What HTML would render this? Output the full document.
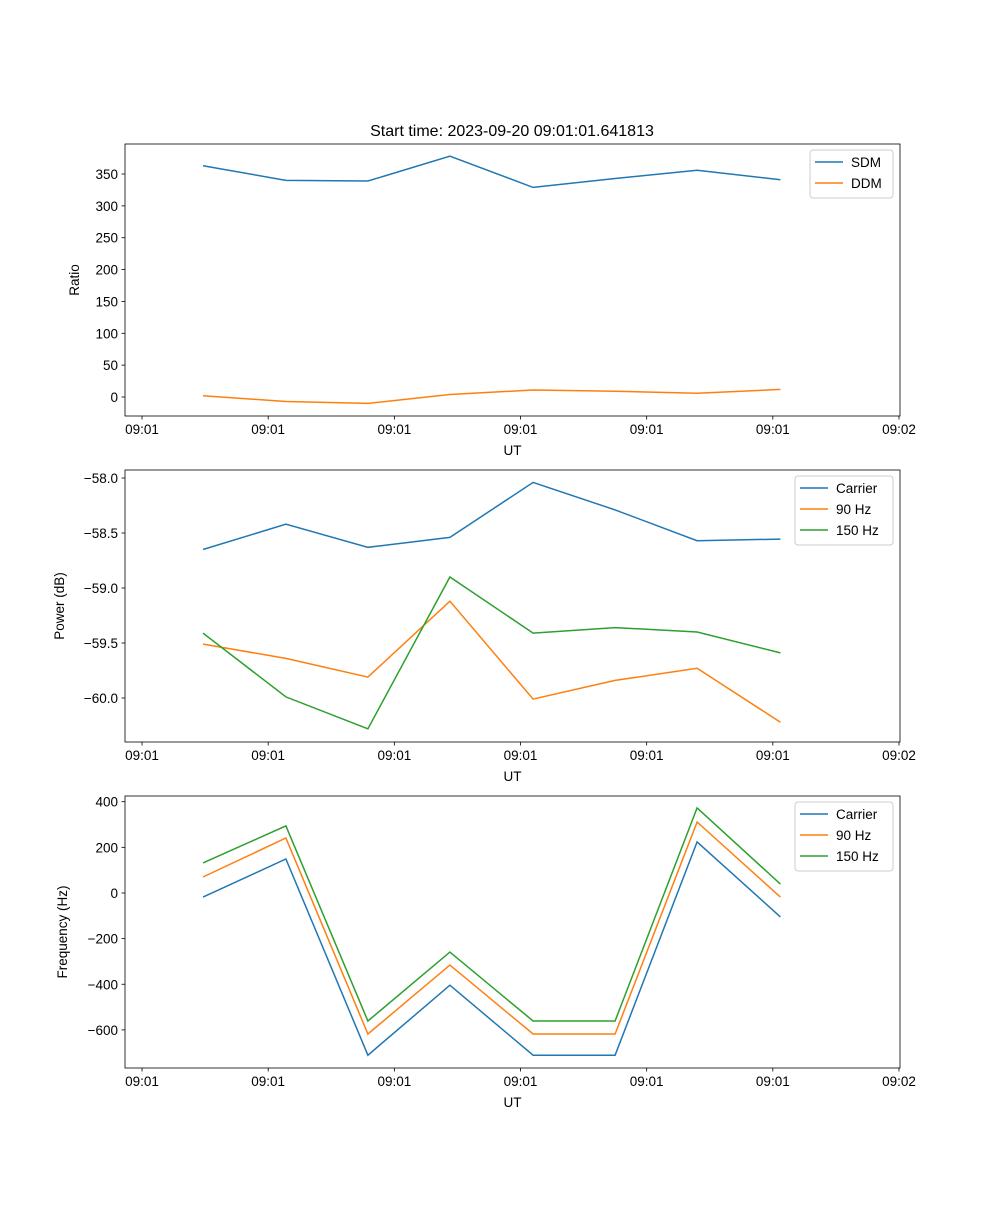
<!DOCTYPE html>
<html><head><meta charset="utf-8">
<style>
body{margin:0;background:#fff;}
svg text{font-family:"Liberation Sans","DejaVu Sans",sans-serif;font-size:13.5px;fill:#000;}
</style></head>
<body>
<svg id="fig" width="1000" height="1200" xmlns="http://www.w3.org/2000/svg"></svg>
<script>
const times = [4.83, 11.4, 17.9, 24.4, 31.0, 37.5, 44.0, 50.6];
const xTickVals = [0, 10, 20, 30, 40, 50, 60];
const xTickLabels = ["09:01","09:01","09:01","09:01","09:01","09:01","09:02"];
const sdm = [363, 340, 339, 378, 329, 343, 356, 341];
const ddm = [2, -7, -10, 4, 11, 9, 6, 12];
const pCarrier = [-58.65, -58.42, -58.63, -58.54, -58.04, -58.29, -58.57, -58.555];
const p90 = [-59.51, -59.64, -59.81, -59.12, -60.01, -59.84, -59.73, -60.22];
const p150 = [-59.41, -59.99, -60.28, -58.90, -59.41, -59.36, -59.40, -59.59];
const fCarrier = [-18, 149, -711, -404, -711, -711, 224, -105];
const f90 = [70, 241, -618, -316, -618, -618, 311, -18];
const f150 = [132, 294, -561, -259, -561, -561, 373, 39];
const ticks1 = [0, 50, 100, 150, 200, 250, 300, 350];
const ticks1Labels = ["0","50","100","150","200","250","300","350"];
const ticks2 = [-60.0, -59.5, -59.0, -58.5, -58.0];
const ticks2Labels = ["\u221260.0","\u221259.5","\u221259.0","\u221258.5","\u221258.0"];
const ticks3 = [-600, -400, -200, 0, 200, 400];
const ticks3Labels = ["\u2212600","\u2212400","\u2212200","0","200","400"];

const NS="http://www.w3.org/2000/svg";
const svg=document.getElementById('fig');
function mk(tag,attrs,parent){const e=document.createElementNS(NS,tag);for(const k in attrs)e.setAttribute(k,attrs[k]);(parent||svg).appendChild(e);return e;}
const L=125,R=900;
const xmin=-1.35,xmax=60.08;
const X=v=>L+(v-xmin)/(xmax-xmin)*(R-L);

function panel(name,top,bot,ymin,ymax,ticks,tlabels,ylabel,ylabX,series,legend){
  const g=mk('g',{});
  
  
  const Y=v=>bot-(v-ymin)/(ymax-ymin)*(bot-top);
  series.forEach(s=>{
    const p=mk('polyline',{points:s.vals.map((v,i)=>X(times[i]).toFixed(1)+','+Y(v).toFixed(1)).join(' '),fill:'none',stroke:s.color,'stroke-width':1.5},g);
    
    
  });
  mk('rect',{x:L,y:top,width:R-L,height:bot-top,fill:'none',stroke:'#000','stroke-width':0.8},g);
  xTickVals.forEach((v,i)=>{
    const x=X(v);
    mk('line',{x1:x,x2:x,y1:bot,y2:bot+3.5,stroke:'#000','stroke-width':0.8},g);
    const t=mk('text',{x:x,y:bot+18,'text-anchor':'middle'},g);t.textContent=xTickLabels[i];
    
    
  });
  const xt=mk('text',{x:(L+R)/2,y:bot+39,'text-anchor':'middle'},g);xt.textContent='UT';
  
  
  ticks.forEach((v,i)=>{
    const y=Y(v);
    mk('line',{x1:L-3.5,x2:L,y1:y,y2:y,stroke:'#000','stroke-width':0.8},g);
    const t=mk('text',{x:L-7,y:y+5,'text-anchor':'end'},g);t.textContent=tlabels[i];
    
    
  });
  const cy=(top+bot)/2;
  const yt=mk('text',{x:ylabX,y:cy,'text-anchor':'middle',transform:`rotate(-90 ${ylabX} ${cy})`},g);yt.textContent=ylabel;
  
  
  const lg=mk('g',{},g);
  
  
  mk('rect',{x:legend.x,y:top+6,width:R-7-legend.x,height:series.length*21+6,rx:3,fill:'#fff','fill-opacity':0.8,stroke:'#ccc'},lg);
  series.forEach((s,i)=>{
    const y=top+18+i*21;
    mk('line',{x1:legend.x+5,x2:legend.x+33,y1:y,y2:y,stroke:s.color,'stroke-width':1.5},lg);
    const t=mk('text',{x:legend.x+41,y:y+5},lg);t.textContent=s.label;
    
    
  });
}
const title=mk('text',{x:512,y:136,'text-anchor':'middle',style:'font-size:16px'});
title.textContent='Start time: 2023-09-20 09:01:01.641813';



panel('ratio-panel',144,416,-29.8,397.1,ticks1,ticks1Labels,'Ratio',79,
 [{id:'sdm',label:'SDM',color:'#1f77b4',vals:sdm},{id:'ddm',label:'DDM',color:'#ff7f0e',vals:ddm}],{x:810});
panel('power-panel',470,742,-60.4,-57.927,ticks2,ticks2Labels,'Power (dB)',64,
 [{id:'carrier-power',label:'Carrier',color:'#1f77b4',vals:pCarrier},{id:'90hz-power',label:'90 Hz',color:'#ff7f0e',vals:p90},{id:'150hz-power',label:'150 Hz',color:'#2ca02c',vals:p150}],{x:795});
panel('frequency-panel',796,1068,-767,425,ticks3,ticks3Labels,'Frequency (Hz)',67,
 [{id:'carrier-freq',label:'Carrier',color:'#1f77b4',vals:fCarrier},{id:'90hz-freq',label:'90 Hz',color:'#ff7f0e',vals:f90},{id:'150hz-freq',label:'150 Hz',color:'#2ca02c',vals:f150}],{x:795});
</script>
</body></html>
